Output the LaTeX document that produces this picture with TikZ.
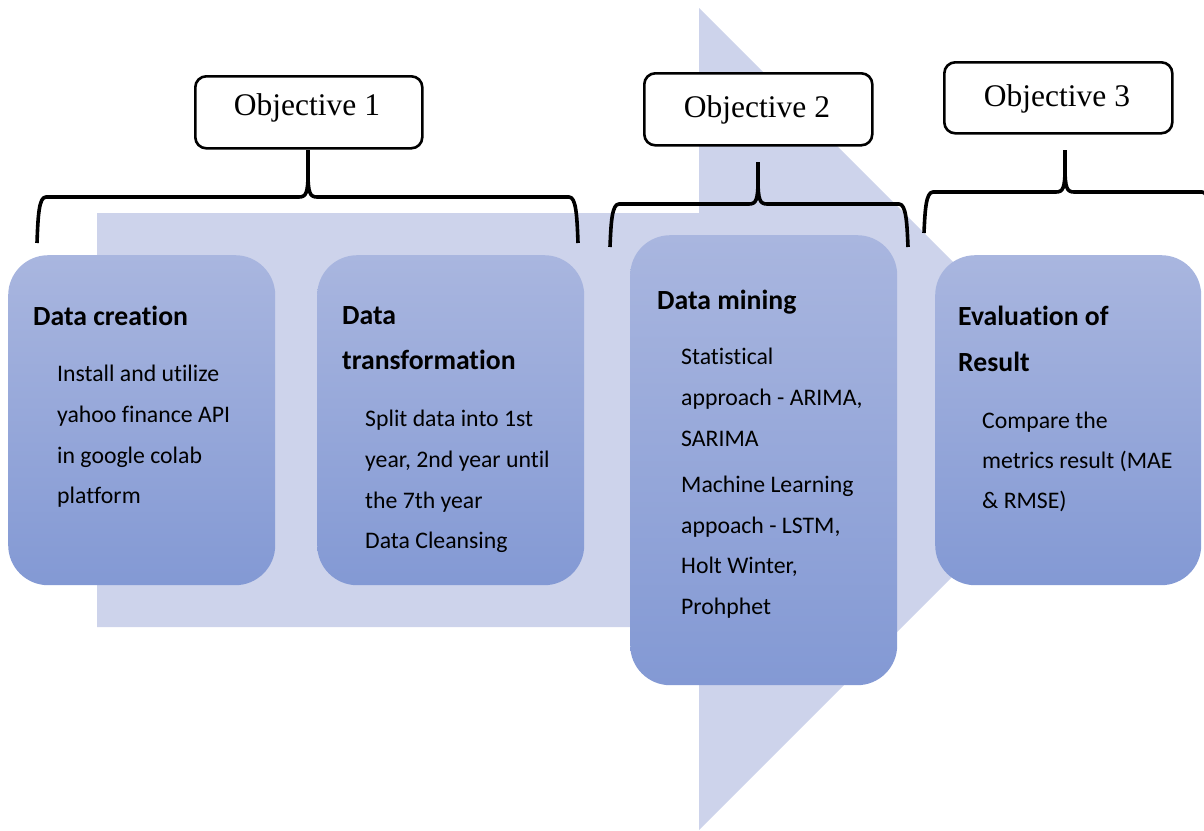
\documentclass[tikz,border=0pt]{standalone}
\usepackage{fontspec}
\newfontfamily\carl[Ligatures={NoCommon,NoContextual}]{Carlito}
\newfontfamily\tms{Liberation Serif}
\definecolor{arrowc}{HTML}{CDD3EB}
\definecolor{boxtop}{HTML}{A9B6DF}
\definecolor{boxbot}{HTML}{8399D4}
\tikzset{
 box/.style={rounded corners=40pt, top color=boxtop, bottom color=boxbot, draw=none, anchor=north west, inner sep=0pt},
 objbox/.style={draw=black, line width=2.6pt, rounded corners=11pt, fill=white, anchor=north west, inner sep=0pt},
 objtext/.style={font=\tms\fontsize{31.5}{36}\selectfont, anchor=base, inner sep=0pt},
 head/.style={font=\carl\bfseries\fontsize{27.7}{32}\selectfont, anchor=base west, inner sep=0pt},
 body/.style={font=\carl\fontsize{23.75}{28}\selectfont, anchor=base west, inner sep=0pt},
 bracestyle/.style={line width=3.6pt, line cap=butt, line join=round},
}
\newcommand\mybrace[6]{% L R C yb yh yt
 \draw[bracestyle] (#1,#4) .. controls ({#1+1},{#5+18}) and ({#1+2},#5) .. ({#1+9},#5) -- ({#3-9},#5) .. controls ({#3-2},#5) and (#3,{#5-4}) .. (#3,{#5-24}) -- (#3,#6)
   (#3,{#5-24}) .. controls (#3,{#5-4}) and ({#3+2},#5) .. ({#3+9},#5) -- ({#2-9},#5) .. controls ({#2-2},#5) and ({#2-1},{#5+18}) .. (#2,#4);
}
\begin{document}
\begin{tikzpicture}[x=1pt,y=-1pt]
\useasboundingbox (0,0) rectangle (1204,830);
\clip (0,0) rectangle (1204,830);
\fill[arrowc] (97,213) -- (699,213) -- (699,8) -- (1110,419) -- (699,830) -- (699,627) -- (97,627) -- cycle;

% main boxes
\node[box, minimum width=267pt, minimum height=330pt] (b1) at (8,255) {};
\node[box, minimum width=267pt, minimum height=330pt] (b2) at (317,255) {};
\node[box, minimum width=267pt, minimum height=450pt] (b3) at (630,235) {};
\node[box, minimum width=266pt, minimum height=330pt] (b4) at (935,255) {};

% objective boxes
\node[objbox, minimum width=227pt, minimum height=72pt] (o1) at (194,75) {};
\node[objbox, minimum width=228pt, minimum height=72pt] (o2) at (643,72) {};
\node[objbox, minimum width=228pt, minimum height=71pt] (o3) at (943,61) {};
\node[objtext] (o1t) at (307,115) {Objective 1};
\node[objtext] (o2t) at (757,117) {Objective 2};
\node[objtext] (o3t) at (1057,106) {Objective 3};

% braces
\mybrace{37}{578}{308}{243}{197}{150}
\mybrace{610}{908}{758}{247}{204}{162}
\mybrace{924}{1211}{1065}{233}{192}{150}

% box 1
\node[head] (h1) at (33,325) {Data creation};
\node[body] (t1a) at (57,381) {Install and utilize};
\node[body] (t1b) at (57,422) {yahoo finance API};
\node[body] (t1c) at (57,463) {in google colab};
\node[body] (t1d) at (57,503) {platform};

% box 2
\node[head] (h2a) at (342,324) {Data};
\node[head] (h2b) at (342,369) {transformation};
\node[body] (t2a) at (365,426) {Split data into 1st};
\node[body] (t2b) at (365,467) {year, 2nd year until};
\node[body] (t2c) at (365,508) {the 7th year};
\node[body] (t2d) at (365,548) {Data Cleansing};

% box 3
\node[head] (h3) at (657,309) {Data mining};
\node[body] (t3a) at (681,364) {Statistical};
\node[body] (t3b) at (681,405) {approach - ARIMA,};
\node[body] (t3c) at (681,446) {SARIMA};
\node[body] (t3d) at (681,492) {Machine Learning};
\node[body] (t3e) at (681,533) {appoach - LSTM,};
\node[body] (t3f) at (681,573) {Holt Winter,};
\node[body] (t3g) at (681,614) {Prohphet};

% box 4
\node[head] (h4a) at (958,325) {Evaluation of};
\node[head] (h4b) at (958,371) {Result};
\node[body] (t4a) at (982,428) {Compare the};
\node[body] (t4b) at (982,468) {metrics result (MAE};
\node[body] (t4c) at (982,508) {\& RMSE)};
\end{tikzpicture}
\end{document}
